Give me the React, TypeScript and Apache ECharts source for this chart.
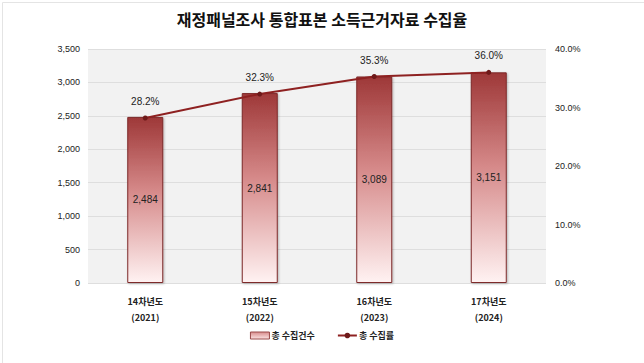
import React, { useEffect, useRef } from "react";
import * as echarts from "echarts";

const categories = ["14차년도\n(2021)", "15차년도\n(2022)", "16차년도\n(2023)", "17차년도\n(2024)"];
const countValues = [2484, 2841, 3089, 3151];
const rateValues = [28.2, 32.3, 35.3, 36.0];
const seriesNames = ["총 수집건수", "총 수집률"];
const title = "재정패널조사 통합표본 소득근거자료 수집율";

const FONT = "'Liberation Sans', 'Noto Sans CJK KR', sans-serif";

export default function App() {
  const ref = useRef<HTMLDivElement>(null);
  useEffect(() => {
    document.body.style.margin = "0";
    if (!ref.current) return;
    const chart = echarts.init(ref.current, null, { renderer: "svg" });
    const barGradient = new echarts.graphic.LinearGradient(0, 0, 0, 1, [
      { offset: 0, color: "#9e3838" },
      { offset: 0.45, color: "#d68a8a" },
      { offset: 1, color: "#fff2f2" },
    ]);
    const legendGradient = new echarts.graphic.LinearGradient(0, 0, 0, 1, [
      { offset: 0, color: "#d88c8c" },
      { offset: 1, color: "#fbe3e3" },
    ]);
    chart.setOption({
      animation: false,
      backgroundColor: "#ffffff",
      textStyle: { fontFamily: FONT },
      title: {
        text: title,
        left: "center",
        top: 6,
        textStyle: { fontSize: 16, fontWeight: "bold", color: "#111", fontFamily: "'Noto Sans CJK KR', sans-serif" },
      },
      grid: {
        left: 88,
        right: 98,
        top: 49,
        bottom: 80,
        show: true,
        backgroundColor: "#f2f2f2",
        borderWidth: 0,
      },
      legend: {
        bottom: 18,
        left: "center",
        itemGap: 22,
        itemWidth: 19,
        itemHeight: 7,
        textStyle: { fontSize: 9, color: "#222", fontWeight: "bold", fontFamily: "'Noto Sans CJK KR', sans-serif", padding: [0, 0, 0, -3] },
        data: [
          { name: seriesNames[0], icon: "rect", itemStyle: { color: legendGradient, borderColor: "#9a4a4a", borderWidth: 1 } },
          { name: seriesNames[1] },
        ],
      },
      xAxis: {
        type: "category",
        data: categories,
        axisLine: { show: false },
        axisTick: { show: false },
        axisLabel: {
          color: "#222",
          fontSize: 9,
          fontWeight: "bold",
          lineHeight: 16,
          margin: 10,
          fontFamily: "'Noto Sans CJK KR', sans-serif",
        },
      },
      yAxis: [
        {
          type: "value",
          min: 0,
          max: 3500,
          interval: 500,
          axisLine: { show: false },
          axisTick: { show: false },
          splitLine: { lineStyle: { color: "#dedede", width: 1 } },
          axisLabel: {
            color: "#222",
            fontSize: 9,
            margin: 8,
            formatter: (v: number) => v.toLocaleString("en-US"),
          },
        },
        {
          type: "value",
          min: 0,
          max: 40,
          interval: 10,
          axisLine: { show: false },
          axisTick: { show: false },
          splitLine: { show: false },
          axisLabel: {
            color: "#222",
            fontSize: 9,
            margin: 9,
            formatter: (v: number) => v.toFixed(1) + "%",
          },
        },
      ],
      series: [
        {
          name: seriesNames[0],
          type: "bar",
          data: countValues,
          barWidth: 36,
          yAxisIndex: 0,
          itemStyle: {
            color: barGradient,
            borderColor: "#7e2a2a",
            borderWidth: 1,
            shadowColor: "rgba(0,0,0,0.25)",
            shadowBlur: 2,
            shadowOffsetX: 1,
            shadowOffsetY: 1,
          },
          label: {
            show: true,
            position: "inside",
            color: "#222",
            fontSize: 10,
            formatter: (p: any) => Number(p.value).toLocaleString("en-US"),
          },
        },
        {
          name: seriesNames[1],
          type: "line",
          data: rateValues,
          yAxisIndex: 1,
          symbol: "circle",
          symbolSize: 5,
          lineStyle: { color: "#8e2121", width: 2 },
          itemStyle: { color: "#6e1a1a" },
          label: {
            show: true,
            position: "top",
            distance: 9,
            color: "#222",
            fontSize: 10,
            formatter: (p: any) => Number(p.value).toFixed(1) + "%",
          },
        },
      ],
      graphic: [
        {
          type: "rect",
          left: 0,
          top: 0,
          shape: { width: 643, height: 362 },
          style: { fill: "none", stroke: "#e4e4e4", lineWidth: 1 },
          silent: true,
        },
      ],
    });
    return () => chart.dispose();
  }, []);
  return <div ref={ref} style={{ width: 644, height: 363 }} />;
}
